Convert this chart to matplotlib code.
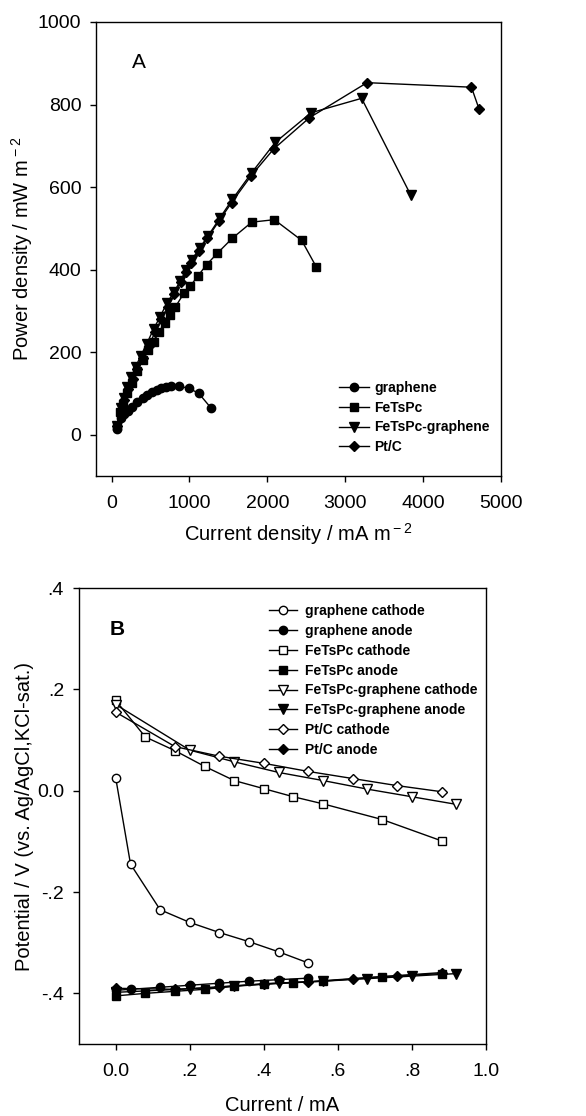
# -*- coding: utf-8 -*-
import matplotlib
matplotlib.use('Agg')
import matplotlib.pyplot as plt

plt.rcParams['font.family'] = ['Liberation Sans', 'DejaVu Sans']
plt.rcParams['mathtext.fontset'] = 'custom'
plt.rcParams['mathtext.rm'] = 'Liberation Sans'
plt.rcParams['axes.unicode_minus'] = False

# ---- A: power density curves (mA m-2, mW m-2)
graphene_x = [64, 120, 160, 210, 260, 330, 400, 460, 520, 580, 640, 700, 760, 860, 990, 1120, 1280]
graphene_y = [14, 40, 50, 58, 66, 80, 90, 97, 103, 108, 112, 115, 117, 117, 113, 100, 64]

fetspc_x = [70, 110, 150, 200, 260, 330, 400, 470, 540, 610, 680, 750, 820, 930, 1010, 1110,
            1220, 1360, 1550, 1800, 2090, 2440, 2630]
fetspc_y = [20, 55, 75, 100, 125, 155, 180, 205, 225, 250, 270, 290, 310, 343, 360, 385,
            412, 440, 476, 515, 521, 471, 406]

fetspc_gr_x = [70, 115, 155, 200, 255, 310, 372, 450, 540, 620, 714, 800, 880, 960, 1030, 1130,
               1240, 1390, 1550, 1800, 2100, 2560, 3210, 3840]
fetspc_gr_y = [20, 65, 90, 115, 140, 165, 190, 220, 256, 285, 320, 345, 372, 400, 424, 452,
               482, 525, 570, 635, 708, 780, 815, 581]

ptc_x = [75, 120, 160, 210, 270, 330, 400, 480, 560, 640, 720, 800, 885, 960, 1020, 1120,
         1230, 1380, 1540, 1790, 2080, 2540, 3280, 4620, 4720]
ptc_y = [20, 60, 85, 110, 135, 160, 185, 215, 250, 280, 310, 340, 369, 395, 417, 446,
         476, 518, 562, 627, 692, 768, 853, 842, 788]

# ---- B: electrode potentials (mA, V)
gr_cat_x = [0, 0.04, 0.12, 0.20, 0.28, 0.36, 0.44, 0.52]
gr_cat_y = [0.025, -0.145, -0.235, -0.260, -0.280, -0.298, -0.318, -0.340]
gr_an_x = [0, 0.04, 0.12, 0.20, 0.28, 0.36, 0.44, 0.52]
gr_an_y = [-0.394, -0.392, -0.388, -0.384, -0.380, -0.376, -0.373, -0.370]

fe_cat_x = [0, 0.08, 0.16, 0.24, 0.32, 0.40, 0.48, 0.56, 0.72, 0.88]
fe_cat_y = [0.178, 0.106, 0.079, 0.048, 0.020, 0.004, -0.012, -0.026, -0.057, -0.099]
fe_an_x = [0, 0.08, 0.16, 0.24, 0.32, 0.40, 0.48, 0.56, 0.72, 0.88]
fe_an_y = [-0.405, -0.400, -0.396, -0.392, -0.386, -0.382, -0.379, -0.376, -0.367, -0.361]

fg_cat_x = [0, 0.20, 0.32, 0.44, 0.56, 0.68, 0.80, 0.92]
fg_cat_y = [0.170, 0.080, 0.057, 0.036, 0.020, 0.003, -0.012, -0.027]
fg_an_x = [0, 0.20, 0.32, 0.44, 0.56, 0.68, 0.80, 0.92]
fg_an_y = [-0.398, -0.391, -0.385, -0.380, -0.376, -0.371, -0.366, -0.361]

pt_cat_x = [0, 0.16, 0.28, 0.40, 0.52, 0.64, 0.76, 0.88]
pt_cat_y = [0.155, 0.087, 0.068, 0.054, 0.038, 0.024, 0.010, -0.002]
pt_an_x = [0, 0.16, 0.28, 0.40, 0.52, 0.64, 0.76, 0.88]
pt_an_y = [-0.390, -0.392, -0.388, -0.381, -0.377, -0.371, -0.365, -0.359]

fig = plt.figure(figsize=(5.86, 11.16), dpi=100)
axA = fig.add_axes([0.1638, 0.5735, 0.6912, 0.4068])
axB = fig.add_axes([0.1343, 0.0645, 0.6950, 0.4086])

lw = 1.0
ms = 6
axA.plot(graphene_x, graphene_y, 'k-', marker='o', ms=ms, lw=lw, label='graphene')
axA.plot(fetspc_x, fetspc_y, 'k-', marker='s', ms=ms - 0.5, lw=lw, label='FeTsPc')
axA.plot(fetspc_gr_x, fetspc_gr_y, 'k-', marker='v', ms=ms + 0.5, lw=lw, label='FeTsPc-graphene')
axA.plot(ptc_x, ptc_y, 'k-', marker='D', ms=ms - 0.5, lw=lw, label='Pt/C')

axA.set_xlim(-200, 5000)
axA.set_ylim(-100, 1000)
axA.set_xticks([0, 1000, 2000, 3000, 4000, 5000])
axA.set_yticks([0, 200, 400, 600, 800, 1000])
axA.set_xlabel('Current density / mA m$^{\\rm -2}$', fontsize=14.5)
axA.set_ylabel('Power density / mW m$^{\\rm -2}$', fontsize=14.5)
axA.yaxis.set_label_coords(-0.15, 0.5)
axA.xaxis.set_label_coords(0.5, -0.1)
axA.text(0.106, 0.91, 'A', transform=axA.transAxes, fontsize=15,
         ha='center', va='center')
axA.legend(loc='upper left', bbox_to_anchor=(0.582, 0.225), frameon=False,
           prop={'weight': 'bold', 'size': 10}, borderpad=0, labelspacing=0.42,
           handlelength=2.2, handletextpad=0.35)

# panel B
mb = 6
axB.plot(gr_cat_x, gr_cat_y, 'k-', marker='o', mfc='white', ms=mb, lw=lw, label='graphene cathode')
axB.plot(gr_an_x, gr_an_y, 'k-', marker='o', ms=mb, lw=lw, label='graphene anode')
axB.plot(fe_cat_x, fe_cat_y, 'k-', marker='s', mfc='white', ms=mb - 0.5, lw=lw, label='FeTsPc cathode')
axB.plot(fe_an_x, fe_an_y, 'k-', marker='s', ms=mb - 0.5, lw=lw, label='FeTsPc anode')
axB.plot(fg_cat_x, fg_cat_y, 'k-', marker='v', mfc='white', ms=mb + 0.5, lw=lw,
         label='FeTsPc-graphene cathode')
axB.plot(fg_an_x, fg_an_y, 'k-', marker='v', ms=mb + 0.5, lw=lw, label='FeTsPc-graphene anode')
axB.plot(pt_cat_x, pt_cat_y, 'k-', marker='D', mfc='white', ms=mb - 0.5, lw=lw, label='Pt/C cathode')
axB.plot(pt_an_x, pt_an_y, 'k-', marker='D', ms=mb - 0.5, lw=lw, label='Pt/C anode')

axB.set_xlim(-0.1, 1.0)
axB.set_ylim(-0.5, 0.4)
axB.set_xticks([0, 0.2, 0.4, 0.6, 0.8, 1.0])
axB.set_xticklabels(['0.0', '.2', '.4', '.6', '.8', '1.0'])
axB.set_yticks([-0.4, -0.2, 0.0, 0.2, 0.4])
axB.set_yticklabels(['-.4', '-.2', '0.0', '.2', '.4'])
axB.set_xlabel('Current / mA', fontsize=14.5)
axB.set_ylabel('Potential / V (vs. Ag/AgCl,KCl-sat.)', fontsize=14.5)
axB.yaxis.set_label_coords(-0.11, 0.5)
axB.xaxis.set_label_coords(0.5, -0.115)
axB.text(0.095, 0.91, 'B', transform=axB.transAxes, fontsize=15,
         fontweight='bold', ha='center', va='center')
axB.legend(loc='upper left', bbox_to_anchor=(0.45, 0.98), frameon=False,
           prop={'weight': 'bold', 'size': 10}, borderpad=0, labelspacing=0.42,
           handlelength=2.0, handletextpad=0.6)

for ax in (axA, axB):
    for sp in ax.spines.values():
        sp.set_linewidth(1.0)
    ax.tick_params(direction='out', length=4.5, width=1.0, labelsize=14,
                   top=False, right=False)
    ax.tick_params(axis='x', pad=9)
    ax.tick_params(axis='y', pad=6)

fig.savefig('out.png', dpi=100)
